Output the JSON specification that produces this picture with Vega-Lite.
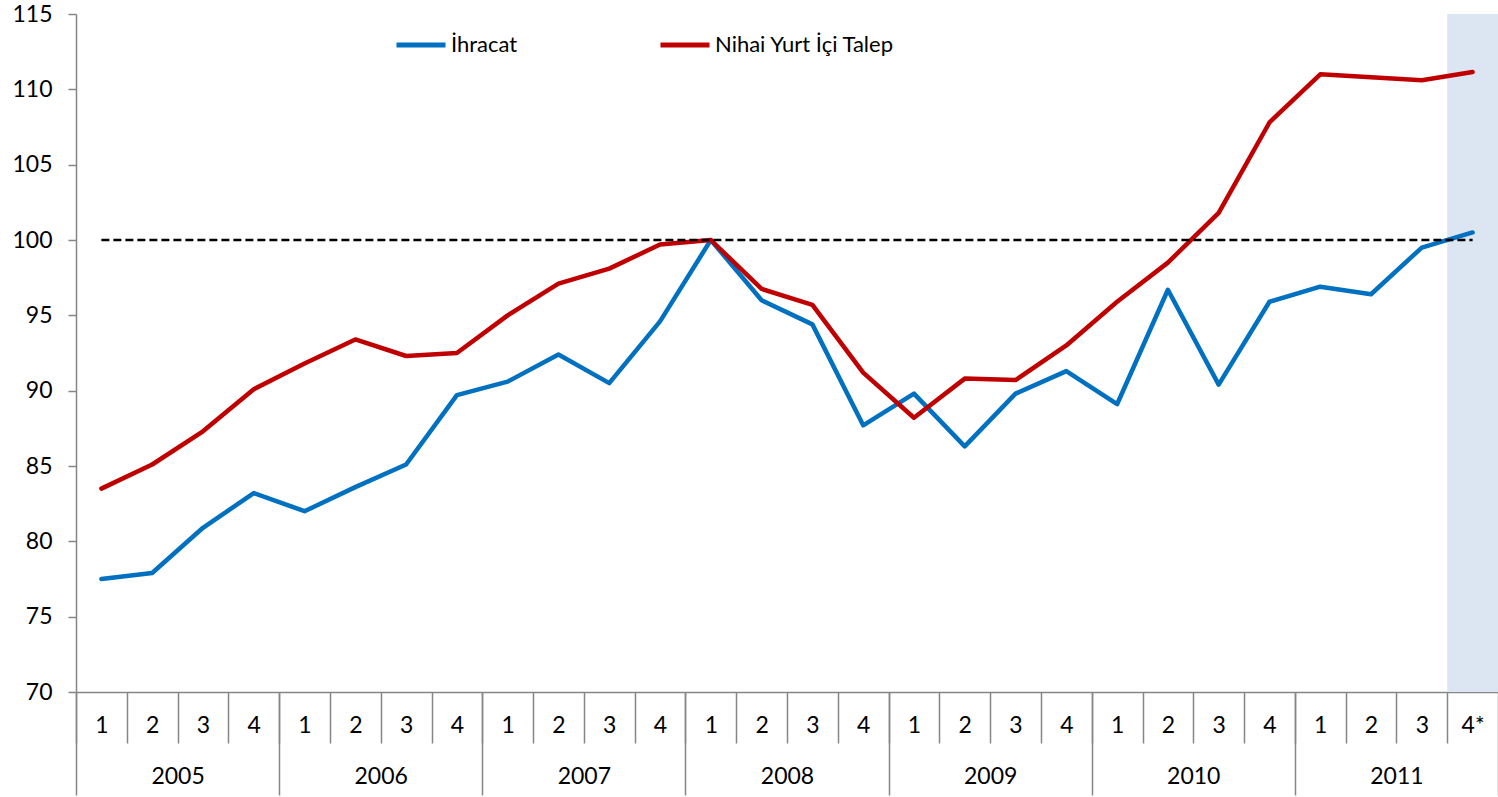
{
  "$schema": "https://vega.github.io/schema/vega-lite/v6.json",
  "width": 1422,
  "height": 678,
  "autosize": {"type": "none"},
  "padding": {"left": 76, "top": 14, "right": 0, "bottom": 105},
  "background": "white",
  "config": {
    "view": {"stroke": null},
    "font": "Lato",
    "axis": {"domainColor": "#868686", "tickColor": "#868686", "domainWidth": 1.5, "tickWidth": 1.5, "labelFont": "Lato", "labelFontSize": 23, "labelColor": "#000000", "grid": false, "labelFlush": false, "labelOverlap": false}
  },
  "datasets": {
    "series": [
      {"i": 1, "s": "İhracat", "v": 77.5}, {"i": 2, "s": "İhracat", "v": 77.9}, {"i": 3, "s": "İhracat", "v": 80.9}, {"i": 4, "s": "İhracat", "v": 83.2},
      {"i": 5, "s": "İhracat", "v": 82.0}, {"i": 6, "s": "İhracat", "v": 83.6}, {"i": 7, "s": "İhracat", "v": 85.1}, {"i": 8, "s": "İhracat", "v": 89.7},
      {"i": 9, "s": "İhracat", "v": 90.6}, {"i": 10, "s": "İhracat", "v": 92.4}, {"i": 11, "s": "İhracat", "v": 90.5}, {"i": 12, "s": "İhracat", "v": 94.6},
      {"i": 13, "s": "İhracat", "v": 100.0}, {"i": 14, "s": "İhracat", "v": 96.0}, {"i": 15, "s": "İhracat", "v": 94.4}, {"i": 16, "s": "İhracat", "v": 87.7},
      {"i": 17, "s": "İhracat", "v": 89.8}, {"i": 18, "s": "İhracat", "v": 86.3}, {"i": 19, "s": "İhracat", "v": 89.8}, {"i": 20, "s": "İhracat", "v": 91.3},
      {"i": 21, "s": "İhracat", "v": 89.1}, {"i": 22, "s": "İhracat", "v": 96.7}, {"i": 23, "s": "İhracat", "v": 90.4}, {"i": 24, "s": "İhracat", "v": 95.9},
      {"i": 25, "s": "İhracat", "v": 96.9}, {"i": 26, "s": "İhracat", "v": 96.4}, {"i": 27, "s": "İhracat", "v": 99.5}, {"i": 28, "s": "İhracat", "v": 100.5},
      {"i": 1, "s": "Nihai Yurt İçi Talep", "v": 83.5}, {"i": 2, "s": "Nihai Yurt İçi Talep", "v": 85.1}, {"i": 3, "s": "Nihai Yurt İçi Talep", "v": 87.3}, {"i": 4, "s": "Nihai Yurt İçi Talep", "v": 90.1},
      {"i": 5, "s": "Nihai Yurt İçi Talep", "v": 91.8}, {"i": 6, "s": "Nihai Yurt İçi Talep", "v": 93.4}, {"i": 7, "s": "Nihai Yurt İçi Talep", "v": 92.3}, {"i": 8, "s": "Nihai Yurt İçi Talep", "v": 92.5},
      {"i": 9, "s": "Nihai Yurt İçi Talep", "v": 95.0}, {"i": 10, "s": "Nihai Yurt İçi Talep", "v": 97.1}, {"i": 11, "s": "Nihai Yurt İçi Talep", "v": 98.1}, {"i": 12, "s": "Nihai Yurt İçi Talep", "v": 99.7},
      {"i": 13, "s": "Nihai Yurt İçi Talep", "v": 100.0}, {"i": 14, "s": "Nihai Yurt İçi Talep", "v": 96.75}, {"i": 15, "s": "Nihai Yurt İçi Talep", "v": 95.7}, {"i": 16, "s": "Nihai Yurt İçi Talep", "v": 91.2},
      {"i": 17, "s": "Nihai Yurt İçi Talep", "v": 88.2}, {"i": 18, "s": "Nihai Yurt İçi Talep", "v": 90.8}, {"i": 19, "s": "Nihai Yurt İçi Talep", "v": 90.7}, {"i": 20, "s": "Nihai Yurt İçi Talep", "v": 93.0},
      {"i": 21, "s": "Nihai Yurt İçi Talep", "v": 95.9}, {"i": 22, "s": "Nihai Yurt İçi Talep", "v": 98.5}, {"i": 23, "s": "Nihai Yurt İçi Talep", "v": 101.8}, {"i": 24, "s": "Nihai Yurt İçi Talep", "v": 107.8},
      {"i": 25, "s": "Nihai Yurt İçi Talep", "v": 111.0}, {"i": 26, "s": "Nihai Yurt İçi Talep", "v": 110.8}, {"i": 27, "s": "Nihai Yurt İçi Talep", "v": 110.6}, {"i": 28, "s": "Nihai Yurt İçi Talep", "v": 111.15}
    ],
    "band": [{"x": 27.5, "x2": 28.5, "y": 70, "y2": 115}],
    "ref": [{"x": 1, "x2": 28, "y": 100}]
  },
  "resolve": {"scale": {"x": "independent"}, "axis": {"x": "independent"}},
  "layer": [
    {
      "data": {"name": "band"},
      "mark": {"type": "rect", "color": "#DCE6F2"},
      "encoding": {
        "x": {"field": "x", "type": "quantitative", "scale": {"domain": [0.5, 28.5], "nice": false, "zero": false},
          "axis": {"orient": "bottom", "values": [0.5, 4.5, 8.5, 12.5, 16.5, 20.5, 24.5, 28.5], "tickSize": 103, "labels": false, "domain": true, "title": null}},
        "x2": {"field": "x2"},
        "y": {"field": "y", "type": "quantitative", "scale": {"domain": [70, 115], "nice": false, "zero": false},
          "axis": {"values": [70, 75, 80, 85, 90, 95, 100, 105, 110, 115], "tickSize": 8, "labelPadding": 16, "title": null}},
        "y2": {"field": "y2"}
      }
    },
    {
      "data": {"name": "ref"},
      "mark": {"type": "rule", "opacity": 0},
      "encoding": {
        "x": {"field": "x", "type": "quantitative", "scale": {"domain": [0.5, 28.5], "nice": false, "zero": false},
          "axis": {"orient": "bottom", "values": [2.5, 6.5, 10.5, 14.5, 18.5, 22.5, 26.5], "tickSize": 0, "labelPadding": 73, "domain": false, "title": null,
            "labelExpr": "'' + (2005 + (datum.value - 2.5) / 4)"}},
        "y": {"field": "y", "type": "quantitative", "scale": {"domain": [70, 115], "nice": false, "zero": false}}
      }
    },
    {
      "data": {"name": "series"},
      "mark": {"type": "line", "strokeWidth": 4.5, "strokeJoin": "round", "strokeCap": "round"},
      "encoding": {
        "x": {"field": "i", "type": "quantitative", "scale": {"domain": [0.5, 28.5], "nice": false, "zero": false},
          "axis": {"orient": "bottom", "values": [1, 2, 3, 4, 5, 6, 7, 8, 9, 10, 11, 12, 13, 14, 15, 16, 17, 18, 19, 20, 21, 22, 23, 24, 25, 26, 27, 28], "tickSize": 0, "labelPadding": 22, "domain": false, "title": null,
            "labelExpr": "datum.value == 28 ? '4*' : '' + ((datum.value - 1) % 4 + 1)"}},
        "y": {"field": "v", "type": "quantitative", "scale": {"domain": [70, 115], "nice": false, "zero": false}},
        "color": {"field": "s", "type": "nominal", "scale": {"domain": ["İhracat", "Nihai Yurt İçi Talep"], "range": ["#0070C0", "#C00000"]},
          "legend": {"title": null, "orient": "none", "legendX": 318, "legendY": 4, "direction": "horizontal", "symbolType": "stroke", "symbolSize": 2401, "symbolStrokeWidth": 5, "labelFontSize": 22, "labelFont": "Lato", "labelColor": "#000000", "labelOffset": 3, "labelLimit": 0, "columnPadding": 132}},
        "order": {"field": "i"}
      }
    },
    {
      "data": {"name": "ref"},
      "mark": {"type": "rule", "color": "#000000", "strokeWidth": 2.5, "strokeDash": [8, 4]},
      "encoding": {
        "x": {"field": "x", "type": "quantitative", "scale": {"domain": [0.5, 28.5], "nice": false, "zero": false},
          "axis": {"orient": "bottom", "values": [0.5, 1.5, 2.5, 3.5, 4.5, 5.5, 6.5, 7.5, 8.5, 9.5, 10.5, 11.5, 12.5, 13.5, 14.5, 15.5, 16.5, 17.5, 18.5, 19.5, 20.5, 21.5, 22.5, 23.5, 24.5, 25.5, 26.5, 27.5], "tickSize": 51, "labels": false, "domain": false, "title": null}},
        "x2": {"field": "x2"},
        "y": {"field": "y", "type": "quantitative", "scale": {"domain": [70, 115], "nice": false, "zero": false}}
      }
    }
  ]
}
